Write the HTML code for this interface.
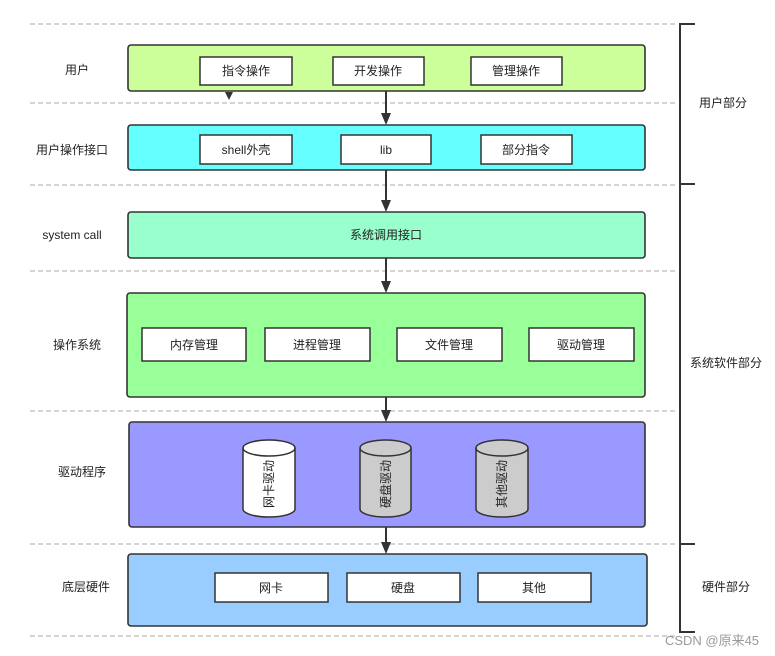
<!DOCTYPE html>
<html><head><meta charset="utf-8"><style>
html,body{margin:0;padding:0;background:#fff;width:775px;height:656px;overflow:hidden}
text{font-family:"Liberation Sans","Noto Sans CJK SC",sans-serif;font-size:12px;fill:#222}
</style></head><body>
<svg width="775" height="656" viewBox="0 0 775 656" xmlns="http://www.w3.org/2000/svg">
<g stroke="#aaa" stroke-dasharray="5,3" stroke-width="1">
<line x1="30" y1="24" x2="676" y2="24"/><line x1="30" y1="103" x2="676" y2="103"/>
<line x1="30" y1="185" x2="676" y2="185"/><line x1="30" y1="271" x2="676" y2="271"/>
<line x1="30" y1="411" x2="676" y2="411"/><line x1="30" y1="544" x2="676" y2="544"/>
<line x1="30" y1="636" x2="676" y2="636"/>
</g>
<g stroke="#333" stroke-width="2" fill="none">
<path d="M695,24 H680 V632 H695"/><path d="M680,184 H695"/><path d="M680,544 H695"/>
</g>
<g stroke="#333" stroke-width="1.6">
<rect x="128" y="45" width="517" height="46" rx="3" fill="#ccff99"/>
<rect x="128" y="125" width="517" height="45" rx="3" fill="#66ffff"/>
<rect x="128" y="212" width="517" height="46" rx="3" fill="#99ffcc"/>
<rect x="127" y="293" width="518" height="104" rx="3" fill="#99ff99"/>
<rect x="129" y="422" width="516" height="105" rx="3" fill="#9999ff"/>
<rect x="128" y="554" width="519" height="72" rx="3" fill="#99ccff"/>
</g>
<g stroke="#333" stroke-width="1.5" fill="#fff">
<rect x="200" y="57" width="92" height="28"/><rect x="333" y="57" width="91" height="28"/><rect x="471" y="57" width="91" height="28"/>
<rect x="200" y="135" width="92" height="29"/><rect x="341" y="135" width="90" height="29"/><rect x="481" y="135" width="91" height="29"/>
<rect x="142" y="328" width="104" height="33"/><rect x="265" y="328" width="105" height="33"/><rect x="397" y="328" width="105" height="33"/><rect x="529" y="328" width="105" height="33"/>
<rect x="215" y="573" width="113" height="29"/><rect x="347" y="573" width="113" height="29"/><rect x="478" y="573" width="113" height="29"/>
</g>
<g stroke="#333" stroke-width="1.5">
<path d="M243,448 V509 A26,8 0 0 0 295,509 V448" fill="#fff"/><ellipse cx="269" cy="448" rx="26" ry="8" fill="#fff"/>
<path d="M360,448 V509 A25.5,8 0 0 0 411,509 V448" fill="#ccc"/><ellipse cx="385.5" cy="448" rx="25.5" ry="8" fill="#ccc"/>
<path d="M476,448 V509 A26,8 0 0 0 528,509 V448" fill="#ccc"/><ellipse cx="502" cy="448" rx="26" ry="8" fill="#ccc"/>
</g>
<g stroke="#333" stroke-width="2">
<line x1="386" y1="91" x2="386" y2="115"/><line x1="386" y1="170" x2="386" y2="202"/>
<line x1="386" y1="258" x2="386" y2="283"/><line x1="386" y1="397" x2="386" y2="412"/>
<line x1="386" y1="527" x2="386" y2="544"/>
</g>
<g fill="#333">
<path d="M381,113 L391,113 L386,125 Z"/><path d="M381,200 L391,200 L386,212 Z"/>
<path d="M381,281 L391,281 L386,293 Z"/><path d="M381,410 L391,410 L386,422 Z"/>
<path d="M381,542 L391,542 L386,554 Z"/>
<path d="M225,92 L233,92 L229,100 Z"/>
</g>
<g text-anchor="middle">
<text x="77" y="74">用户</text><text x="72" y="154">用户操作接口</text><text x="72" y="239">system call</text>
<text x="77" y="349">操作系统</text><text x="82" y="476">驱动程序</text><text x="86" y="591">底层硬件</text>
<text x="723" y="107">用户部分</text><text x="726" y="367">系统软件部分</text><text x="726" y="591">硬件部分</text>
<text x="246" y="75">指令操作</text><text x="378" y="75">开发操作</text><text x="516" y="75">管理操作</text>
<text x="246" y="154">shell外壳</text><text x="386" y="154">lib</text><text x="526" y="154">部分指令</text>
<text x="386" y="239">系统调用接口</text>
<text x="194" y="349">内存管理</text><text x="317" y="349">进程管理</text><text x="449" y="349">文件管理</text><text x="581" y="349">驱动管理</text>
<text x="271" y="592">网卡</text><text x="403" y="592">硬盘</text><text x="534" y="592">其他</text>
<text transform="translate(273,484) rotate(-90)">网卡驱动</text>
<text transform="translate(390,484) rotate(-90)">硬盘驱动</text>
<text transform="translate(506,484) rotate(-90)">其他驱动</text>
</g>
<text x="712" y="645" text-anchor="middle" style="font-size:13px;fill:#999">CSDN @原来45</text>
</svg>
</body></html>
